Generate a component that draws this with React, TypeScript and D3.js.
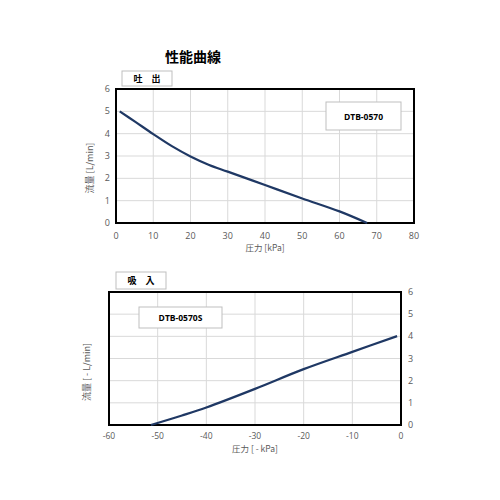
import React from "react";
import * as d3 from "d3";

const pressureOut = [1, 5, 10, 15, 20, 25, 30, 40, 50, 60, 67.4];
const flowOut = [5.0, 4.55, 3.98, 3.44, 2.98, 2.6, 2.3, 1.7, 1.1, 0.52, 0];

const pressureIn = [-51.4, -45, -40, -30, -20, -10, -0.8];
const flowIn = [0, 0.43, 0.79, 1.63, 2.52, 3.3, 4.01];

const xTicksOut = [0, 10, 20, 30, 40, 50, 60, 70, 80];
const xTicksIn = [-60, -50, -40, -30, -20, -10, 0];
const yTicks = [0, 1, 2, 3, 4, 5, 6];

const FONT = "'Open Sans', 'Noto Sans', sans-serif";
const CJK = "'Noto Sans CJK JP', sans-serif";
const LINE = "#1f3864";
const GRID = "#d9d9d9";
const TICK = "#595959";

export default function App() {
  // Top chart
  const x1 = d3.scaleLinear().domain([0, 80]).range([116, 414]);
  const y1 = d3.scaleLinear().domain([0, 6]).range([223, 89]);
  // Bottom chart
  const x2 = d3.scaleLinear().domain([-60, 0]).range([109, 401]);
  const y2 = d3.scaleLinear().domain([0, 6]).range([425, 292]);

  const line1 = d3
    .line<number>()
    .x((_, i) => x1(pressureOut[i]))
    .y((d) => y1(d))
    .curve(d3.curveCatmullRom.alpha(0.5))(flowOut) as string;
  const line2 = d3
    .line<number>()
    .x((_, i) => x2(pressureIn[i]))
    .y((d) => y2(d))
    .curve(d3.curveCatmullRom.alpha(0.5))(flowIn) as string;

  return (
    <svg width={500} height={500} style={{ position: "absolute", left: 0, top: 0, background: "#fff" }}>
      <rect x={0} y={0} width={500} height={500} fill="#fff" />
      {/* Title */}
      <text x={193} y={62} textAnchor="middle" fontFamily={CJK} fontWeight="bold" fontSize={14} fill="#000">
        性能曲線
      </text>

      {/* ===== Top chart ===== */}
      <rect x={122} y={71} width={50} height={15} fill="#fff" stroke="#bfbfbf" strokeWidth={1} />
      <text x={147} y={82} textAnchor="middle" fontFamily={CJK} fontWeight="bold" fontSize={9} fill="#000">
        吐　出
      </text>
      {xTicksOut.map((t) => (
        <line key={"gx1" + t} x1={x1(t)} x2={x1(t)} y1={y1(0)} y2={y1(6)} stroke={GRID} strokeWidth={1} />
      ))}
      {yTicks.map((t) => (
        <line key={"gy1" + t} x1={x1(0)} x2={x1(80)} y1={y1(t)} y2={y1(t)} stroke={GRID} strokeWidth={1} />
      ))}
      <rect x={x1(0)} y={y1(6)} width={x1(80) - x1(0)} height={y1(0) - y1(6)} fill="none" stroke="#000" strokeWidth={2} />
      <rect x={326} y={102} width={75} height={28} fill="#fff" stroke="#bfbfbf" strokeWidth={1} />
      <text x={363.5} y={119.5} textAnchor="middle" fontFamily={FONT} fontWeight="bold" fontSize={8.5} fill="#000">
        DTB-0570
      </text>
      <path d={line1} fill="none" stroke={LINE} strokeWidth={2.2} />
      {xTicksOut.map((t) => (
        <text key={"tx1" + t} x={x1(t)} y={239} textAnchor="middle" fontFamily={FONT} fontSize={9} fill={TICK}>
          {t}
        </text>
      ))}
      {yTicks.map((t) => (
        <text key={"ty1" + t} x={110} y={y1(t) + 3} textAnchor="end" fontFamily={FONT} fontSize={9} fill={TICK}>
          {t}
        </text>
      ))}
      <text x={265} y={251} textAnchor="middle" fontFamily={CJK} fontSize={8.5} fill={TICK}>
        圧力 [kPa]
      </text>
      <text
        transform="translate(93,168) rotate(-90)"
        textAnchor="middle"
        fontFamily={CJK}
        fontSize={9}
        fill={TICK}
      >
        流量 [L/min]
      </text>

      {/* ===== Bottom chart ===== */}
      <rect x={116} y={272} width={50} height={17} fill="#fff" stroke="#bfbfbf" strokeWidth={1} />
      <text x={141} y={284} textAnchor="middle" fontFamily={CJK} fontWeight="bold" fontSize={9} fill="#000">
        吸　入
      </text>
      {xTicksIn.map((t) => (
        <line key={"gx2" + t} x1={x2(t)} x2={x2(t)} y1={y2(0)} y2={y2(6)} stroke={GRID} strokeWidth={1} />
      ))}
      {yTicks.map((t) => (
        <line key={"gy2" + t} x1={x2(-60)} x2={x2(0)} y1={y2(t)} y2={y2(t)} stroke={GRID} strokeWidth={1} />
      ))}
      <rect x={x2(-60)} y={y2(6)} width={x2(0) - x2(-60)} height={y2(0) - y2(6)} fill="none" stroke="#000" strokeWidth={2} />
      <rect x={139} y={307} width={83} height={21} fill="#fff" stroke="#bfbfbf" strokeWidth={1} />
      <text x={180.5} y={320.5} textAnchor="middle" fontFamily={FONT} fontWeight="bold" fontSize={8.5} fill="#000">
        DTB-0570S
      </text>
      <path d={line2} fill="none" stroke={LINE} strokeWidth={2.2} />
      {xTicksIn.map((t) => (
        <text key={"tx2" + t} x={x2(t)} y={439} textAnchor="middle" fontFamily={FONT} fontSize={8.5} fill={TICK}>
          {t}
        </text>
      ))}
      {yTicks.map((t) => (
        <text key={"ty2" + t} x={408} y={y2(t) + 3} textAnchor="start" fontFamily={FONT} fontSize={9} fill={TICK}>
          {t}
        </text>
      ))}
      <text x={255} y={452} textAnchor="middle" fontFamily={CJK} fontSize={8.5} fill={TICK}>
        圧力 [ - kPa]
      </text>
      <text
        transform="translate(90,372) rotate(-90)"
        textAnchor="middle"
        fontFamily={CJK}
        fontSize={9}
        fill={TICK}
      >
        流量 [ - L/min]
      </text>
    </svg>
  );
}
